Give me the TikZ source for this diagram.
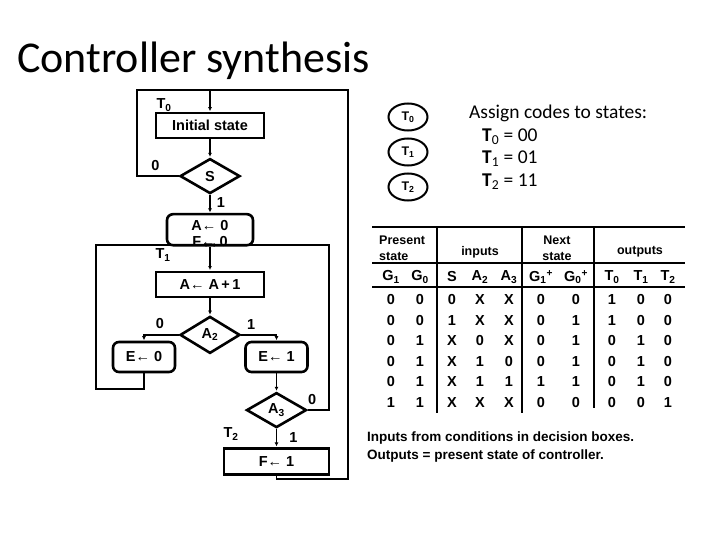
\documentclass[tikz,border=0pt]{standalone}
\usepackage{fontspec}
\setmainfont{Carlito}
\newfontfamily\flowfont{Liberation Sans}
\usetikzlibrary{positioning, arrows.meta, shapes.geometric}

\begin{document}
\begin{tikzpicture}[
  x=1pt, y=-1pt,
  font=\flowfont\bfseries\fontsize{14.5}{16}\selectfont,
  box/.style={draw=black, line width=2.6pt, fill=white, minimum width=108pt,
              minimum height=25pt, inner sep=0pt},
  rbox/.style={box, rounded corners=6pt, minimum width=62pt, minimum height=30pt},
  dec/.style={draw=black, line width=2.6pt, diamond, fill=white, minimum width=60pt,
              minimum height=35pt, inner sep=0pt},
  flow/.style={line width=1.8pt, draw=black},
  arr/.style={flow, -{Latex[length=4pt, width=4pt]}, shorten >=0.5pt},
  lbl/.style={inner sep=0pt},
  stateoval/.style={draw=black, line width=2pt, ellipse, minimum width=39pt,
                    minimum height=27pt, inner sep=0pt,
                    font=\flowfont\bfseries\fontsize{12.5}{14}\selectfont},
  codetxt/.style={inner sep=0pt, anchor=west, font=\rmfamily\mdseries\fontsize{19.5}{23}\selectfont},
  hdr/.style={inner sep=0pt, font=\flowfont\bfseries\fontsize{12.5}{16}\selectfont},
  cell/.style={inner sep=0pt, font=\flowfont\bfseries\fontsize{14.5}{16}\selectfont},
  tabrule/.style={line width=2pt, draw=black}
]
\useasboundingbox (0,0) rectangle (720,540);

\node[anchor=base west, inner sep=0pt, font=\rmfamily\mdseries\fontsize{44}{50}\selectfont]
  (title) at (17,73) {Controller synthesis};

% ASM chart
\node[box] (init) at (210,125.5) {Initial state};
\node[dec, below=18pt of init] (s) {S};
\node[rbox, minimum width=86pt, minimum height=31pt, below=18pt of s] (a0)
  {\raisebox{-9pt}[0pt][0pt]{\begin{tabular}{@{}c@{}}A← 0\\F← 0\end{tabular}}};
\coordinate (j1) at (210,245);
\node[box, below=24pt of a0] (inc) {A← A\,+\,1};
\node[dec, minimum height=37pt, below=17pt of inc] (a2) {A\textsubscript{2}};
\node[rbox] (e0) at (144,357) {E← 0};
\node[rbox] (e1) at (276.5,357) {E← 1};
\node[dec, below=18pt of e1] (a3) {A\textsubscript{3}};
\node[box, minimum width=105pt, minimum height=26pt, below=18pt of a3] (f1) {F← 1};

\node[lbl] (t0) at (164,105) {T\textsubscript{0}};
\node[lbl] (t1) at (163,255) {T\textsubscript{1}};
\node[lbl] (t2) at (231,434) {T\textsubscript{2}};

\coordinate (top) at (210,90);
\coordinate (l1) at (137,90);
\coordinate (l2) at (96,389);
\coordinate (r1) at (348,479);
\coordinate (r2) at (329,245);

\draw[arr] (top) -- (init);
\draw[arr] (init) -- (s);
\draw[arr] (s) -- node[lbl, right=6pt, pos=0.45]{1} (a0);
\draw[arr] (a0) -- (inc);
\draw[arr] (inc) -- (a2);
\draw[arr] (a2.west) -| node[lbl, above=5pt, pos=0.27]{0} (e0.north);
\draw[arr] (a2.east) -| node[lbl, above=5pt, pos=0.14]{1} (e1.north);
\draw[arr] (e1) -- (a3);
\draw[arr] (a3) -- node[lbl, right=12pt]{1} (f1);
\draw[arr] (a3.east) -| node[lbl, above=5pt, pos=0.1]{0} (r2) -- (j1);
\draw[arr] (e0.south) |- (l2) |- (j1);
\draw[flow] (s.west) -| node[lbl, above=5pt, pos=0.28]{0} (l1) -- (top);
\draw[flow] (f1.south) |- (r1) |- (top);

% state codes
\foreach \i/\y in {0/117, 1/152, 2/187}
  \node[stateoval] (oval\i) at (408,\y) {T\textsubscript{\i}};
\node[codetxt] (assign) at (469,113) {Assign codes to states:};
\foreach \i/\v/\y in {0/00/137, 1/01/159, 2/11/182}
  \node[codetxt] (code\i) at (482,\y) {\textbf{T}\textsubscript{\i} = \v};

% table
\draw[tabrule] (372,227) -- (685,227);
\draw[tabrule] (372,263) -- (685,263);
\draw[tabrule] (372,287) -- (685,287);
\foreach \x/\e in {437/413, 522/413, 594/408}
  \draw[tabrule] (\x,227) -- (\x,\e);

\node[hdr, anchor=west, align=left] (hpres) at (379,248) {Present\\state};
\node[hdr] (hin) at (480,252) {inputs};
\node[hdr, align=center] (hnext) at (557,248) {Next\\state};
\node[hdr] (hout) at (640,252) {outputs};

\def\colx{{391,420,452,480,509,541,576,612,641,668}}
\foreach \t [count=\c] in {G\textsubscript{1}, G\textsubscript{0}, S, A\textsubscript{2},
    A\textsubscript{3}, G\textsubscript{1}\textsuperscript{+}, G\textsubscript{0}\textsuperscript{+},
    T\textsubscript{0}, T\textsubscript{1}, T\textsubscript{2}} {
  \pgfmathsetmacro{\xx}{\colx[\c-1]}
  \node[cell] (col\c) at (\xx,277) {\t};
}
\foreach \row [count=\r] in {{0,0,0,X,X,0,0,1,0,0}, {0,0,1,X,X,0,1,1,0,0},
    {0,1,X,0,X,0,1,0,1,0}, {0,1,X,1,0,0,1,0,1,0}, {0,1,X,1,1,1,1,0,1,0},
    {1,1,X,X,X,0,0,0,0,1}} {
  \foreach \v [count=\c] in \row {
    \pgfmathsetmacro{\xx}{\colx[\c-1]}
    \pgfmathsetmacro{\yy}{300+20.5*(\r-1)}
    \node[cell] (d\r-\c) at (\xx,\yy) {\v};
  }
}

\node[anchor=west, align=left, inner sep=0pt,
      font=\flowfont\bfseries\fontsize{13.5}{18}\selectfont] (note) at (367,447)
  {Inputs from conditions in decision boxes.\\Outputs = present state of controller.};

\end{tikzpicture}
\end{document}
